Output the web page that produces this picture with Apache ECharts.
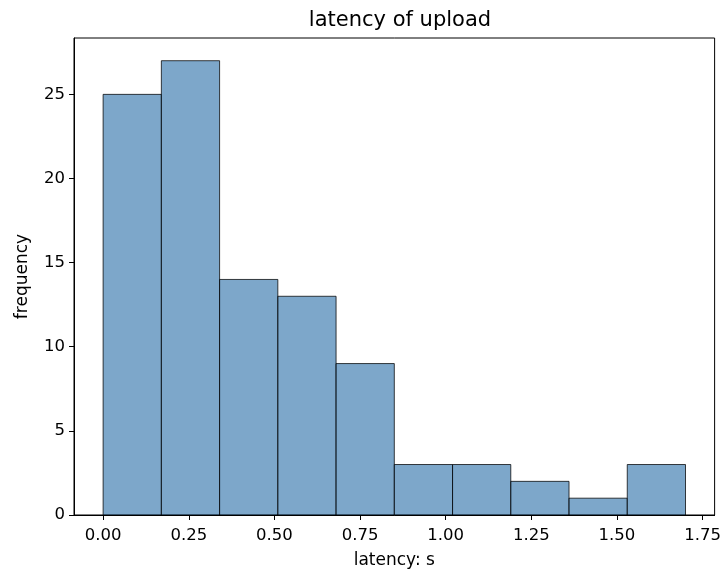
<!DOCTYPE html>
<html><head><meta charset="utf-8">
<script src="https://cdn.jsdelivr.net/npm/echarts@6/dist/echarts.min.js"></script>
<style>html,body{margin:0;padding:0;background:#fff}#c{width:724px;height:574px}</style>
</head><body><div id="c"></div>
<script>
const binEdges = [0.0, 0.17, 0.34, 0.51, 0.68, 0.85, 1.02, 1.19, 1.36, 1.53, 1.70];
const counts = [25, 27, 14, 13, 9, 3, 3, 2, 1, 3];
const xTicks = [0, 0.25, 0.5, 0.75, 1.0, 1.25, 1.5, 1.75];
const yTicks = [0, 5, 10, 15, 20, 25];

const data = counts.map((c, i) => [binEdges[i], binEdges[i + 1], c]);
const font = 'DejaVu Sans';
const chart = echarts.init(document.getElementById('c'), null, {renderer: 'canvas'});
chart.setOption({
  animation: false,
  backgroundColor: '#fff',
  title: {text: 'latency of upload', left: 395, textAlign: 'center', top: 5,
    textStyle: {fontFamily: font, fontSize: 21, fontWeight: 'normal', color: '#000'}},
  grid: {left: 74, right: 9, top: 38, bottom: 59, show: true, borderColor: '#000', borderWidth: 1, backgroundColor: 'transparent'},
  xAxis: {type: 'value', min: -0.085, max: 1.785, splitLine: {show: false},
    name: 'latency: s', nameLocation: 'middle', nameGap: 37,
    nameTextStyle: {fontFamily: font, fontSize: 17, color: '#000'},
    axisLine: {show: true, onZero: false, lineStyle: {color: '#000'}},
    axisTick: {show: true, length: 5, lineStyle: {color: '#000'}, customValues: xTicks},
    axisLabel: {fontFamily: font, fontSize: 16.5, color: '#000', margin: 12, customValues: xTicks,
      formatter: v => v.toFixed(2)}},
  yAxis: {type: 'value', min: 0, max: 28.35, splitLine: {show: false},
    name: 'frequency', nameLocation: 'middle', nameGap: 43, nameRotate: 90,
    nameTextStyle: {fontFamily: font, fontSize: 17, color: '#000'},
    axisLine: {show: true, onZero: false, lineStyle: {color: '#000'}},
    axisTick: {show: true, length: 5, lineStyle: {color: '#000'}, customValues: yTicks},
    axisLabel: {fontFamily: font, fontSize: 16.5, color: '#000', margin: 9, customValues: yTicks}},
  series: [{
    type: 'custom',
    data: data,
    encode: {x: [0, 1], y: 2},
    renderItem: function (params, api) {
      const p0 = api.coord([api.value(0), 0]);
      const p1 = api.coord([api.value(1), api.value(2)]);
      return {type: 'rect', shape: {x: p0[0], y: p1[1], width: p1[0] - p0[0], height: p0[1] - p1[1]},
        style: {fill: 'rgba(70,130,180,0.7)', stroke: 'rgba(0,0,0,0.75)', lineWidth: 1}};
    }
  }]
});
</script></body></html>
